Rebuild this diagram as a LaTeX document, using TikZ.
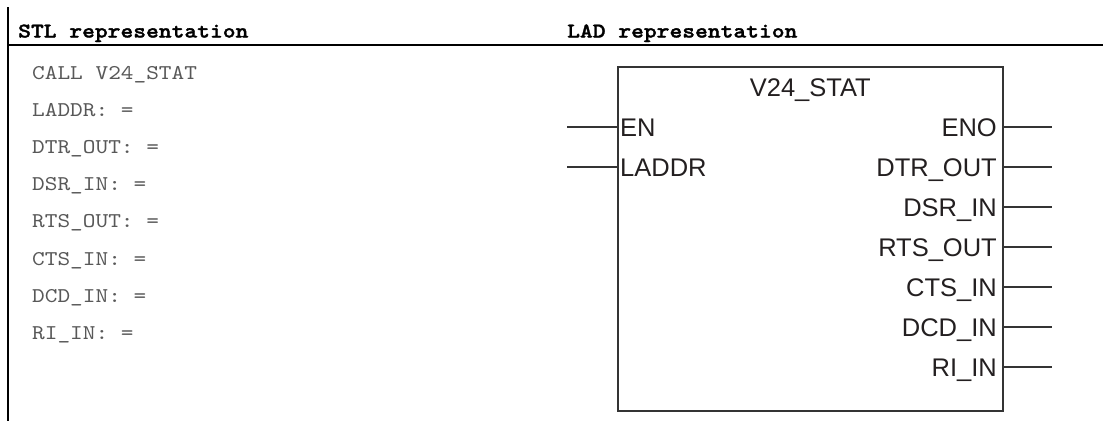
\documentclass[tikz,border=0pt]{standalone}
\usepackage{fontspec}
\setsansfont{Liberation Sans}
\newfontfamily\stlfont[FakeStretch=1.15]{lmmono10-regular.otf}
\newfontfamily\stlheadfont[FakeStretch=1.16, FakeBold=1.6]{lmmonolt10-bold.otf}
\usepackage{tikz}
\usetikzlibrary{positioning, calc}

\definecolor{stlgray}{RGB}{88,88,88}
\definecolor{boxgray}{RGB}{52,52,52}
\definecolor{ladtext}{RGB}{35,31,32}

\begin{document}
\begin{tikzpicture}[x=1pt, y=-1pt,
    rule/.style={line width=2.6pt, black},
    head/.style={font=\fontsize{21}{25}\selectfont\stlheadfont, inner sep=0pt, anchor=base west},
    stl/.style={font=\fontsize{21}{25}\selectfont\stlfont, text=stlgray, inner sep=0pt, anchor=base west},
    fblock/.style={draw=boxgray, line width=1.6pt, inner sep=0pt, anchor=north west},
    lad/.style={font=\fontsize{25.5}{30}\selectfont\sffamily, text=ladtext, inner sep=0pt},
    pinline/.style={draw=boxgray, line width=1.6pt}]
    \useasboundingbox (0,0) rectangle (1103,421);
    % frame of the table
    \draw[rule] (8,7) -- (8,421);
    \draw[rule] (8,45) -- (1103,45);
    \node[head] (stlhead) at (18,37.5) {STL representation};
    \node[head] (ladhead) at (567,37.5) {LAD representation};
    % STL call
    \foreach \t [count=\i from 0] in {CALL V24\_STAT, LADDR: =, DTR\_OUT: =, DSR\_IN: =,
        RTS\_OUT: =, CTS\_IN: =, DCD\_IN: =, RI\_IN: =} {
        \node[stl] (stl\i) at (32,79+37.2*\i) {\t};
    }
    % LAD block
    \node[fblock, minimum width=385pt, minimum height=344pt] (blk) at (617,66) {};
    \node[lad, anchor=base] (title) at ([yshift=-30pt]blk.north) {V24\_STAT};
    \foreach \t [count=\i from 0] in {EN, LADDR} {
        \node[lad, anchor=base west] (in\i) at (620,136+40*\i) {\t};
        \coordinate (ie\i) at (567,127+40*\i);
        \draw[pinline] (ie\i) -- (blk.west |- ie\i);
    }
    \foreach \t [count=\i from 0] in {ENO, DTR\_OUT, DSR\_IN, RTS\_OUT, CTS\_IN, DCD\_IN, RI\_IN} {
        \node[lad, anchor=base east] (out\i) at (997,136+40*\i) {\t};
        \coordinate (oe\i) at (1052,127+40*\i);
        \draw[pinline] (blk.east |- oe\i) -- (oe\i);
    }
\end{tikzpicture}
\end{document}
